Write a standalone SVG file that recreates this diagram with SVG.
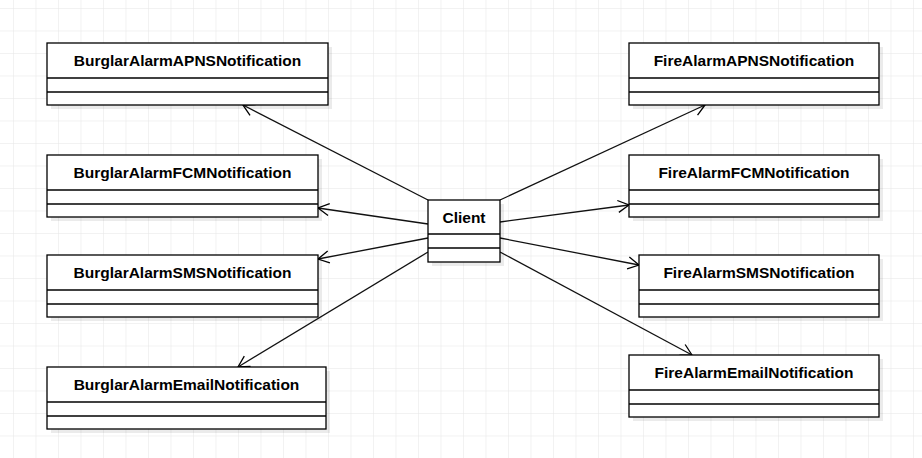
<svg xmlns="http://www.w3.org/2000/svg" width="922" height="458" viewBox="0 0 922 458">
<defs>
<pattern id="g" width="22.5" height="22.5" patternUnits="userSpaceOnUse" x="13" y="8"><path d="M0 0H22.5M0 0V22.5" fill="none" stroke="#e6e6e6" stroke-width="1"/></pattern>
<marker id="a" markerWidth="14" markerHeight="14" refX="12" refY="7" orient="auto" markerUnits="userSpaceOnUse"><path d="M1 1L12 7L1 13" fill="none" stroke="#000" stroke-width="1.3"/></marker>
</defs>
<style>
.b rect.s{fill:#000;opacity:.08}
.b rect.m{fill:#fff;stroke:#000;stroke-width:1.3}
.b line{stroke:#000;stroke-width:1.3}
.b text{font-family:"Liberation Sans",Arial,sans-serif;font-weight:bold;font-size:15.5px;text-anchor:middle}
.c line{stroke:#111;stroke-width:1.3;marker-end:url(#a)}
</style>
<rect width="922" height="458" fill="#fff"/>
<rect width="922" height="458" fill="url(#g)"/>
<g class="c">
<line x1="428" y1="200" x2="243" y2="105"/>
<line x1="428" y1="224" x2="318" y2="208"/>
<line x1="428" y1="238" x2="318" y2="259"/>
<line x1="428" y1="252" x2="238" y2="367"/>
<line x1="500" y1="200" x2="705" y2="105"/>
<line x1="500" y1="222" x2="629" y2="205"/>
<line x1="500" y1="238" x2="639" y2="265"/>
<line x1="500" y1="252" x2="692" y2="355"/>
</g>
<g id="client" class="b"><rect class="s" x="432" y="204" width="72" height="62"/><rect class="m" x="428" y="200" width="72" height="62"/><line x1="428" y1="234" x2="500" y2="234"/><line x1="428" y1="248" x2="500" y2="248"/><text x="464" y="223">Client</text></g>
<g id="l1" class="b"><rect class="s" x="51" y="47" width="281" height="62"/><rect class="m" x="47" y="43" width="281" height="62"/><line x1="47" y1="78" x2="328" y2="78"/><line x1="47" y1="92" x2="328" y2="92"/><text x="187.5" y="66">BurglarAlarmAPNSNotification</text></g>
<g id="l2" class="b"><rect class="s" x="51" y="159" width="271" height="62"/><rect class="m" x="47" y="155" width="271" height="62"/><line x1="47" y1="190" x2="318" y2="190"/><line x1="47" y1="204" x2="318" y2="204"/><text x="182.5" y="178">BurglarAlarmFCMNotification</text></g>
<g id="l3" class="b"><rect class="s" x="51" y="259" width="271" height="62"/><rect class="m" x="47" y="255" width="271" height="62"/><line x1="47" y1="290" x2="318" y2="290"/><line x1="47" y1="304" x2="318" y2="304"/><text x="182.5" y="278">BurglarAlarmSMSNotification</text></g>
<g id="l4" class="b"><rect class="s" x="51" y="371" width="279" height="62"/><rect class="m" x="47" y="367" width="279" height="62"/><line x1="47" y1="402" x2="326" y2="402"/><line x1="47" y1="416" x2="326" y2="416"/><text x="186.5" y="390">BurglarAlarmEmailNotification</text></g>
<g id="r1" class="b"><rect class="s" x="633" y="47" width="250" height="62"/><rect class="m" x="629" y="43" width="250" height="62"/><line x1="629" y1="78" x2="879" y2="78"/><line x1="629" y1="92" x2="879" y2="92"/><text x="754" y="66">FireAlarmAPNSNotification</text></g>
<g id="r2" class="b"><rect class="s" x="633" y="159" width="250" height="62"/><rect class="m" x="629" y="155" width="250" height="62"/><line x1="629" y1="190" x2="879" y2="190"/><line x1="629" y1="204" x2="879" y2="204"/><text x="754" y="178">FireAlarmFCMNotification</text></g>
<g id="r3" class="b"><rect class="s" x="643" y="259" width="240" height="62"/><rect class="m" x="639" y="255" width="240" height="62"/><line x1="639" y1="290" x2="879" y2="290"/><line x1="639" y1="304" x2="879" y2="304"/><text x="759" y="278">FireAlarmSMSNotification</text></g>
<g id="r4" class="b"><rect class="s" x="633" y="359" width="250" height="62"/><rect class="m" x="629" y="355" width="250" height="62"/><line x1="629" y1="390" x2="879" y2="390"/><line x1="629" y1="404" x2="879" y2="404"/><text x="754" y="378">FireAlarmEmailNotification</text></g>
</svg>
